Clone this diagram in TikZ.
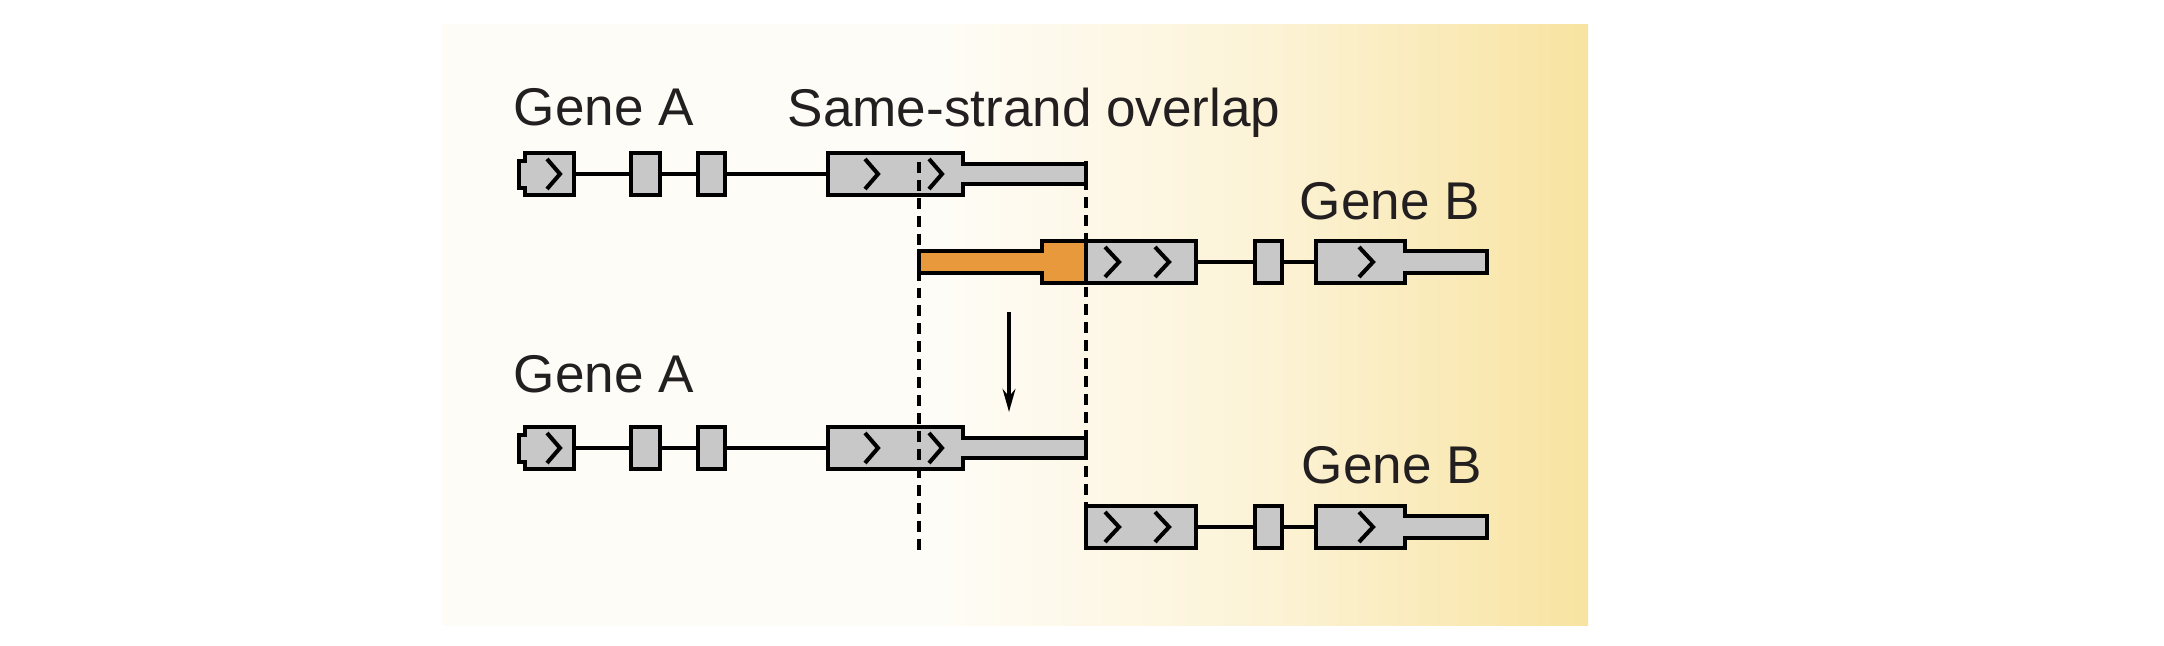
\documentclass[tikz,border=0pt]{standalone}
\usepackage{fontspec}
\setmainfont{Liberation Sans}
\usetikzlibrary{arrows.meta}

\definecolor{exongray}{HTML}{C8C8C8}
\definecolor{utrorange}{HTML}{E8993C}
\definecolor{labelink}{HTML}{231F20}
\definecolor{panelcream}{HTML}{FEFCF6}
\definecolor{panelmid}{HTML}{FCF3D6}
\definecolor{panelgold}{HTML}{F8E3A0}
\pgfdeclarehorizontalshading{panelshade}{100bp}{%
  color(0bp)=(panelcream); color(25bp)=(panelcream); color(47bp)=(panelcream);
  color(61bp)=(panelmid); color(75bp)=(panelgold); color(100bp)=(panelgold)}

\newcommand{\pxu}{0.01cm}

\begin{document}
\begin{tikzpicture}[
    x=0.01cm, y=-0.01cm,
    >=Stealth,
    exonshape/.style={draw=black, line width=1.25pt, fill=exongray},
    exonbox/.style={
        exonshape, rectangle, inner sep=0pt, outer sep=0pt,
        minimum height=42*\pxu,
    },
    intron/.style={draw=black, line width=1.1pt},
    chevron/.style={draw=black, line width=1.15pt},
    cutguide/.style={draw=black, line width=1.05pt, dash pattern=on 3.1pt off 2pt},
    genelabel/.style={
        font=\fontsize{15.1}{18}\selectfont, text=labelink,
        anchor=base west, inner sep=0pt,
    },
]

% ── Background panel ────────────────────────────────────────
\fill[white] (0,0) rectangle (2164,646);
\shade[shading=panelshade] (442,25) rectangle (1588,625);

% ── Labels ──────────────────────────────────────────────────
\node[genelabel] (geneAtop) at (513,126) {Gene A};
\node[genelabel] (overlap)  at (787,127) {Same-strand overlap};
\node[genelabel] (geneBtop) at (1299,220) {Gene B};
\node[genelabel] (geneAbot) at (513,393) {Gene A};
\node[genelabel] (geneBbot) at (1301,483) {Gene B};

% ── Gene A (upper and lower copy) ───────────────────────────
\foreach \r/\yc in {1/174, 3/448} {
    % first exon with a short 5' stub
    \draw[exonshape] (519,\yc-13) -- (525,\yc-13) -- (525,\yc-21) -- (574,\yc-21)
        -- (574,\yc+21) -- (525,\yc+21) -- (525,\yc+14) -- (519,\yc+14) -- cycle;
    \coordinate (ga\r e1) at (574,\yc);
    \node[exonbox, minimum width=29*\pxu] (ga\r e2) at (645.5,\yc) {};
    \node[exonbox, minimum width=27*\pxu] (ga\r e3) at (711.5,\yc) {};
    % last exon with 3' UTR
    \draw[exonshape] (828,\yc-21) -- (963,\yc-21) -- (963,\yc-10) -- (1086,\yc-10)
        -- (1086,\yc+10) -- (963,\yc+10) -- (963,\yc+21) -- (828,\yc+21) -- cycle;
    \coordinate (ga\r e4) at (828,\yc);
    % introns
    \draw[intron] (ga\r e1) -- (ga\r e2);
    \draw[intron] (ga\r e2) -- (ga\r e3);
    \draw[intron] (ga\r e3) -- (ga\r e4);
    % strand direction
    \foreach \cx in {547, 865, 929}
        \draw[chevron] (\cx,\yc-15) -- (\cx+13,\yc) -- (\cx,\yc+15);
}

% ── Gene B: overlapping 5' part (upper copy only) ───────────
\draw[exonshape, fill=utrorange] (919,251) -- (1042,251) -- (1042,241) -- (1086,241)
    -- (1086,283) -- (1042,283) -- (1042,273) -- (919,273) -- cycle;

% ── Gene B (upper and lower copy) ───────────────────────────
\foreach \r/\yc in {2/262, 4/527} {
    \node[exonbox, minimum width=110*\pxu] (gb\r e1) at (1141,\yc) {};
    \node[exonbox, minimum width=27*\pxu] (gb\r e2) at (1268.5,\yc) {};
    % last exon with 3' UTR
    \draw[exonshape] (1316,\yc-21) -- (1405,\yc-21) -- (1405,\yc-11) -- (1487,\yc-11)
        -- (1487,\yc+11) -- (1405,\yc+11) -- (1405,\yc+21) -- (1316,\yc+21) -- cycle;
    \coordinate (gb\r e3) at (1316,\yc);
    % introns
    \draw[intron] (gb\r e1) -- (gb\r e2);
    \draw[intron] (gb\r e2) -- (gb\r e3);
    % strand direction
    \foreach \cx in {1105, 1155, 1359}
        \draw[chevron] (\cx,\yc-15) -- (\cx+14,\yc) -- (\cx,\yc+15);
}

% ── Overlap boundaries ──────────────────────────────────────
\coordinate (cutLtop) at (919,162);
\coordinate (cutLend) at (919,555);
\coordinate (cutRtop) at (1086,161);
\draw[cutguide] (cutLtop) -- (cutLend);
\draw[cutguide] (cutRtop) -- (gb4e1.north west);

% ── Arrow ───────────────────────────────────────────────────
\coordinate (shiftTop) at (1009,312);
\coordinate (shiftTip) at (1009,412);
\draw[-{Stealth[length=6.5pt, width=3.6pt]}, line width=1.3pt] (shiftTop) -- (shiftTip);

\end{tikzpicture}
\end{document}
